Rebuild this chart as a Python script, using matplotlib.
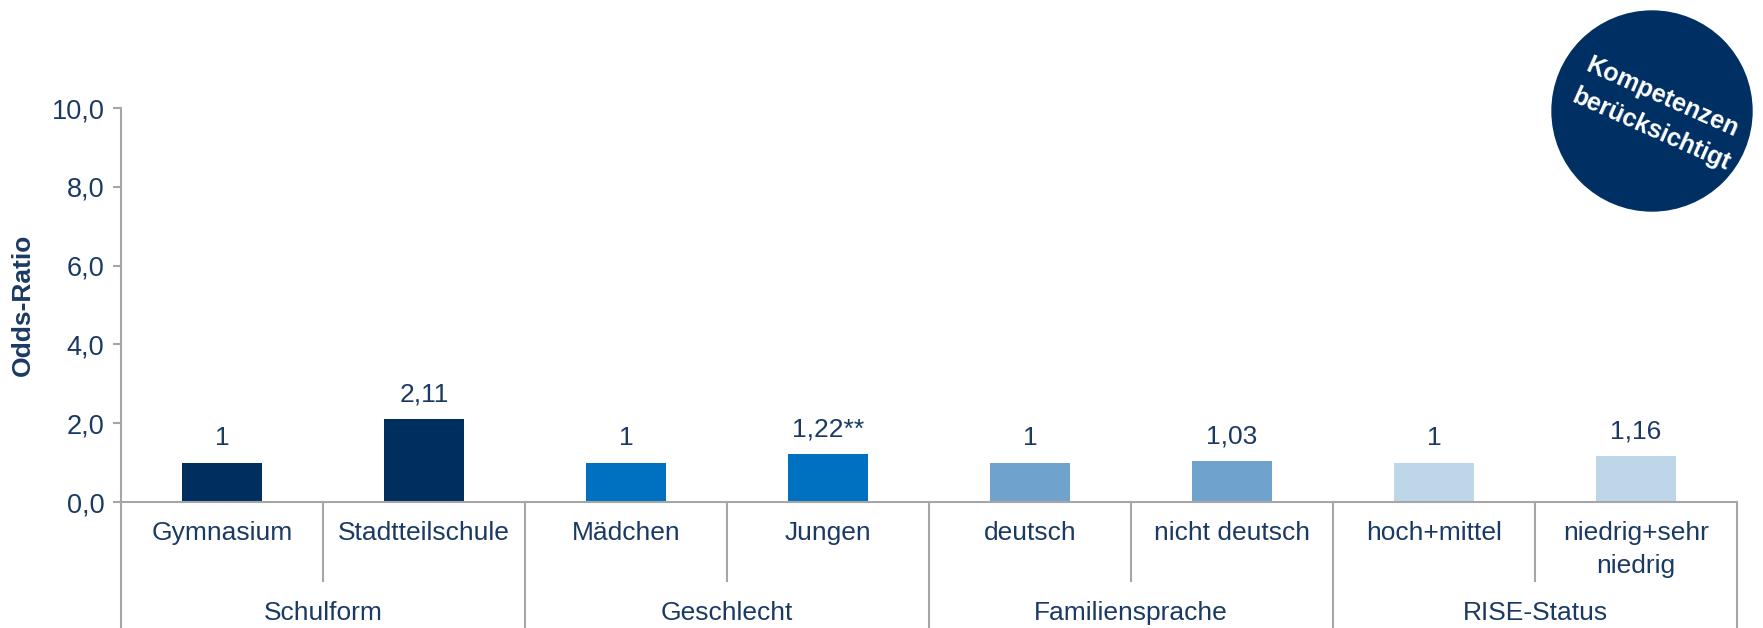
import matplotlib
matplotlib.use("Agg")
import matplotlib.pyplot as plt
from matplotlib import transforms
from matplotlib.patches import Circle

plt.rcParams['font.family'] = ['Liberation Sans', 'DejaVu Sans']

categories = ["Gymnasium", "Stadtteilschule", "Mädchen", "Jungen", "deutsch",
              "nicht deutsch", "hoch+mittel", "niedrig+sehr\nniedrig"]
values = [1.0, 2.11, 1.0, 1.22, 1.0, 1.03, 1.0, 1.16]
value_labels = ["1", "2,11", "1", "1,22**", "1", "1,03", "1", "1,16"]
groups = ["Schulform", "Geschlecht", "Familiensprache", "RISE-Status"]
group_sizes = [2, 2, 2, 2]
colors = ["#002F5F", "#002F5F", "#0070C0", "#0070C0", "#6FA2CD", "#6FA2CD", "#BDD6E8", "#BDD6E8"]
yticks = [0, 2, 4, 6, 8, 10]
ytick_labels = ["0,0", "2,0", "4,0", "6,0", "8,0", "10,0"]

TXT = "#1B3A63"
GRID = "#A6A6A6"
W, H = 1763, 628
fig = plt.figure(figsize=(W / 100, H / 100), dpi=100)
def fy(px):
    return 1 - px / H

ax = fig.add_axes([121 / W, fy(502), (1737 - 121) / W, (502 - 108) / H])
x = list(range(len(categories)))
ax.bar(x, values, width=0.4, color=colors, zorder=2)
ax.set_xlim(-0.5, len(categories) - 0.5)
ax.set_ylim(0, 10)
ax.set_yticks(yticks)
ax.set_yticklabels(ytick_labels, fontsize=19.5, color=TXT)
ax.tick_params(axis='y', length=6, width=1.5, color=GRID, pad=6)
ax.set_xticks([])
for s in ["top", "right"]:
    ax.spines[s].set_visible(False)
for s in ["left", "bottom"]:
    ax.spines[s].set_color(GRID)
    ax.spines[s].set_linewidth(1.5)
ax.set_ylabel("Odds-Ratio", fontsize=19, fontweight="bold", color=TXT, labelpad=12)

for xi, v, lab in zip(x, values, value_labels):
    ax.annotate(lab, (xi, v), xytext=(0, 9), textcoords="offset points",
                ha="center", va="bottom", fontsize=19, color=TXT)

tr = transforms.blended_transform_factory(ax.transData, fig.transFigure)
for xi, lab in zip(x, categories):
    ax.text(xi, fy(521), lab, transform=tr, ha="center", va="top", fontsize=19,
            color=TXT, linespacing=1.45)
bounds = [-0.5]
for gs in group_sizes:
    bounds.append(bounds[-1] + gs)
for i in range(len(categories) + 1):
    b = i - 0.5
    y0 = fy(628) if b in bounds else fy(581)
    ax.plot([b, b], [fy(502), y0], transform=tr, color=GRID, lw=1.5, clip_on=False)
for gi, g in enumerate(groups):
    c = (bounds[gi] + bounds[gi + 1]) / 2
    ax.text(c, fy(613), g, transform=tr, ha="center", va="center", fontsize=19, color=TXT)

circ = Circle((16.52, (H - 111) / 100), 1.0, transform=fig.dpi_scale_trans,
              color="#003063", zorder=5)
fig.add_artist(circ)
fig.text(16.62, (H - 97) / 100, "Kompetenzen", transform=fig.dpi_scale_trans,
         rotation=-24, rotation_mode="anchor", ha="center", va="center",
         fontsize=18, fontweight="bold", color="white", zorder=6)
fig.text(16.51, (H - 130) / 100, "berücksichtigt", transform=fig.dpi_scale_trans,
         rotation=-24, rotation_mode="anchor", ha="center", va="center",
         fontsize=18, fontweight="bold", color="white", zorder=6)

fig.savefig("out.png", dpi=100)
